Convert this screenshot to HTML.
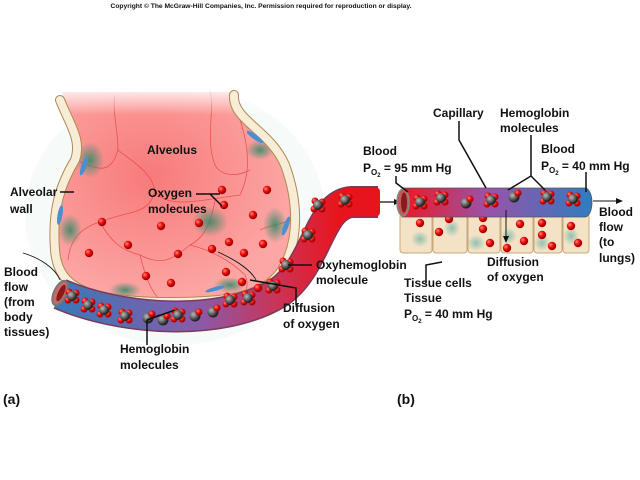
<!DOCTYPE html>
<html><head><meta charset="utf-8"><style>
html,body{margin:0;padding:0;background:#fff}
svg{display:block}
text{font-family:"Liberation Sans",Arial,sans-serif;font-weight:bold;font-size:12px;fill:#111}
</style></head><body>
<svg width="640" height="480" viewBox="0 0 640 480" xmlns="http://www.w3.org/2000/svg">
<defs>
<linearGradient id="ga" x1="60" y1="0" x2="340" y2="0" gradientUnits="userSpaceOnUse">
<stop offset="0" stop-color="#3a78b8"/><stop offset="0.5" stop-color="#8a5aa8"/><stop offset="0.8" stop-color="#d03050"/><stop offset="1" stop-color="#e8141c"/></linearGradient>
<linearGradient id="gb" x1="400" y1="0" x2="592" y2="0" gradientUnits="userSpaceOnUse">
<stop offset="0" stop-color="#ee1820"/><stop offset="0.45" stop-color="#9a52a8"/><stop offset="1" stop-color="#2f7cc0"/></linearGradient>
<linearGradient id="fade" x1="0" y1="85" x2="0" y2="115" gradientUnits="userSpaceOnUse">
<stop offset="0" stop-color="#fff" stop-opacity="1"/><stop offset="1" stop-color="#fff" stop-opacity="0"/></linearGradient>
<radialGradient id="pk" cx="0.4" cy="0.4" r="0.6"><stop offset="0" stop-color="#f77a7a"/><stop offset="1" stop-color="#fca7a5"/></radialGradient>
<radialGradient id="sph" cx="0.35" cy="0.35" r="0.6"><stop offset="0" stop-color="#ff8a7a"/><stop offset="0.5" stop-color="#f01010"/><stop offset="1" stop-color="#a00000"/></radialGradient>
<radialGradient id="dk" cx="0.35" cy="0.35" r="0.6"><stop offset="0" stop-color="#bbb"/><stop offset="1" stop-color="#222"/></radialGradient>
<radialGradient id="gr" cx="0.5" cy="0.5" r="0.5"><stop offset="0" stop-color="#3a8a6a" stop-opacity="0.9"/><stop offset="1" stop-color="#3a8a6a" stop-opacity="0"/></radialGradient>
<radialGradient id="gr2" cx="0.5" cy="0.5" r="0.5"><stop offset="0" stop-color="#7ab8a8" stop-opacity="0.8"/><stop offset="1" stop-color="#7ab8a8" stop-opacity="0"/></radialGradient>
<g id="o"><circle r="4.2" fill="url(#sph)"/></g>
<g id="hb"><circle cx="-3" cy="-4" r="3.5" fill="url(#sph)"/><circle cx="4" cy="-3" r="3.5" fill="url(#sph)"/><circle cx="-4" cy="4" r="3.5" fill="url(#sph)"/><circle cx="4" cy="4" r="3.5" fill="url(#sph)"/><circle r="5" fill="url(#dk)"/></g>
<g id="hb2"><circle r="5.5" fill="url(#dk)"/><circle cx="4" cy="-4" r="3.5" fill="url(#sph)"/></g>
</defs>

<text x="261" y="8" text-anchor="middle" style="font-size:6.7px">Copyright © The McGraw-Hill Companies, Inc. Permission required for reproduction or display.</text>

<ellipse cx="175" cy="215" rx="150" ry="130" fill="#eef8f6" opacity="0.5"/>
<path d="M62,92 C70,120 82,140 75,160 C60,185 52,210 55,250 C58,290 90,300 160,302 C220,302 262,300 282,270 C300,240 298,200 285,165 C270,130 232,120 234,92 Z" fill="url(#pk)"/>
<g fill="none" stroke="#e9433f" stroke-width="0.8" opacity="0.8">
<path d="M75,160 C100,170 110,175 118,150 C118,130 112,110 115,95"/>
<path d="M118,150 C130,160 150,170 155,190 C165,210 200,200 240,195 C250,175 250,150 240,120"/>
<path d="M155,190 C150,215 130,210 100,222 C80,228 70,240 68,260"/>
<path d="M100,222 C110,240 120,250 140,255 C160,265 170,262 190,245 C200,240 210,230 215,200"/>
<path d="M140,255 C145,275 150,290 160,300"/>
<path d="M190,245 C210,250 230,260 245,275 C250,285 245,295 240,300"/>
<path d="M210,90 C215,110 205,140 215,165 C220,175 235,178 250,170"/>
<path d="M260,230 C270,225 280,225 290,220"/>
</g>
<rect x="40" y="80" width="280" height="40" fill="url(#fade)"/>
<ellipse cx="210" cy="222" rx="18" ry="15" fill="url(#gr)"/>
<ellipse cx="90" cy="160" rx="14" ry="18" fill="url(#gr)"/>
<ellipse cx="70" cy="230" rx="12" ry="16" fill="url(#gr)"/>
<ellipse cx="275" cy="225" rx="12" ry="18" fill="url(#gr)"/>
<ellipse cx="260" cy="150" rx="14" ry="10" fill="url(#gr)"/>
<ellipse cx="125" cy="290" rx="16" ry="8" fill="url(#gr)"/>
<ellipse cx="230" cy="285" rx="16" ry="8" fill="url(#gr)"/>
<g fill="none" stroke-linecap="round">
<path d="M60,100 C70,125 82,140 75,160 C60,185 52,210 55,250 C58,290 90,300 160,302 C220,302 262,300 282,270 C300,240 298,200 285,165 C270,130 232,120 234,95" stroke="#b08850" stroke-width="10"/>
<path d="M60,100 C70,125 82,140 75,160 C60,185 52,210 55,250 C58,290 90,300 160,302 C220,302 262,300 282,270 C300,240 298,200 285,165 C270,130 232,120 234,95" stroke="#f7ecd6" stroke-width="8"/>
</g>
<g fill="#4a90d0">
<ellipse cx="84" cy="166" rx="2.5" ry="10" transform="rotate(20 84 166)"/>
<ellipse cx="60" cy="215" rx="2.5" ry="10" transform="rotate(10 60 215)"/>
<ellipse cx="255" cy="137" rx="2.5" ry="10" transform="rotate(-55 255 137)"/>
<ellipse cx="286" cy="226" rx="2.5" ry="10" transform="rotate(20 286 226)"/>
<ellipse cx="125" cy="302" rx="9" ry="2" />
<ellipse cx="215" cy="289" rx="10" ry="2" transform="rotate(-15 215 289)"/>
</g>
<path d="M60,294 C120,320 220,328 278,293 C318,266 318,204 352,202 L378,202" fill="none" stroke="#7a3a5a" stroke-width="32"/>
<path d="M60,294 C120,320 220,328 278,293 C318,266 318,204 352,202 L378,202" fill="none" stroke="url(#ga)" stroke-width="29"/>
<rect x="372" y="187.5" width="8" height="29" rx="4" fill="#e8141c"/>
<ellipse cx="60" cy="293" rx="6" ry="13" transform="rotate(25 60 293)" fill="#c86a6a" stroke="#777" stroke-width="2"/>
<ellipse cx="61" cy="293" rx="3" ry="9" transform="rotate(25 61 293)" fill="#8a1a1a"/>
<g>
<use href="#o" x="222" y="190"/><use href="#o" x="224" y="205"/><use href="#o" x="267" y="190"/>
<use href="#o" x="102" y="222"/><use href="#o" x="161" y="226"/><use href="#o" x="199" y="223"/>
<use href="#o" x="253" y="215"/><use href="#o" x="128" y="245"/><use href="#o" x="89" y="253"/>
<use href="#o" x="178" y="254"/><use href="#o" x="212" y="249"/><use href="#o" x="229" y="242"/>
<use href="#o" x="244" y="253"/><use href="#o" x="263" y="244"/><use href="#o" x="226" y="272"/>
<use href="#o" x="146" y="276"/><use href="#o" x="171" y="283"/><use href="#o" x="242" y="282"/>
<use href="#o" x="258" y="288"/>
</g>
<g>
<use href="#hb" x="72" y="296"/><use href="#hb" x="88" y="305"/><use href="#hb" x="104" y="310"/>
<use href="#hb" x="125" y="316"/><use href="#hb2" x="148" y="318"/><use href="#hb2" x="163" y="320"/>
<use href="#hb" x="178" y="315"/><use href="#hb2" x="195" y="316"/><use href="#hb2" x="213" y="312"/>
<use href="#hb" x="230" y="300"/><use href="#hb" x="248" y="298"/><use href="#hb" x="273" y="286"/>
<use href="#hb" x="286" y="265"/><use href="#hb" x="308" y="235"/><use href="#hb" x="318" y="205"/>
<use href="#hb" x="345" y="200"/>
</g>
<line x1="380" y1="202" x2="398" y2="202" stroke="#111" stroke-width="1.2"/>
<path d="M401,202 L394,199 L394,205 Z" fill="#111"/>

<g fill="#f3e2c6" stroke="#c8a878" stroke-width="1">
<rect x="400" y="214" width="32" height="39" rx="3"/>
<rect x="433" y="214" width="34" height="39" rx="3"/>
<rect x="468" y="214" width="32" height="39" rx="3"/>
<rect x="501" y="214" width="32" height="39" rx="3"/>
<rect x="534" y="214" width="28" height="39" rx="3"/>
<rect x="563" y="214" width="26" height="39" rx="3"/>
</g>
<g>
<ellipse cx="420" cy="239" rx="9" ry="8" fill="url(#gr2)"/>
<ellipse cx="452" cy="228" rx="8" ry="9" fill="url(#gr2)"/>
<ellipse cx="476" cy="243" rx="9" ry="8" fill="url(#gr2)"/>
<ellipse cx="509" cy="236" rx="8" ry="8" fill="url(#gr2)"/>
<ellipse cx="542" cy="243" rx="8" ry="8" fill="url(#gr2)"/>
<ellipse cx="571" cy="236" rx="8" ry="9" fill="url(#gr2)"/>
</g>
<g>
<use href="#o" x="420" y="223"/><use href="#o" x="449" y="219"/><use href="#o" x="439" y="232"/>
<use href="#o" x="483" y="218"/><use href="#o" x="483" y="229"/><use href="#o" x="490" y="243"/>
<use href="#o" x="507" y="248"/><use href="#o" x="520" y="224"/><use href="#o" x="524" y="241"/>
<use href="#o" x="542" y="223"/><use href="#o" x="542" y="235"/><use href="#o" x="552" y="246"/>
<use href="#o" x="571" y="226"/><use href="#o" x="578" y="243"/>
</g>
<path d="M402,188 L585,188 A7,14.5 0 0 1 585,217 L402,217 Z" fill="url(#gb)" stroke="#555" stroke-width="0.8"/>
<ellipse cx="403" cy="202.5" rx="6" ry="13.5" fill="#c05a5a" stroke="#888" stroke-width="1.5"/>
<ellipse cx="404" cy="202.5" rx="3" ry="10" fill="#8a1a1a"/>
<g>
<use href="#hb" x="420" y="202"/><use href="#hb" x="441" y="198"/><use href="#hb2" x="466" y="203"/>
<use href="#hb" x="491" y="200"/><use href="#hb2" x="514" y="197"/><use href="#hb" x="547" y="197"/>
<use href="#hb" x="573" y="199"/>
</g>
<line x1="593" y1="201" x2="618" y2="201" stroke="#111" stroke-width="1"/>
<path d="M623,201 L616,198 L616,204 Z" fill="#111"/>
<line x1="506" y1="210" x2="506" y2="238" stroke="#111" stroke-width="1"/>
<path d="M506,243 L503,236 L509,236 Z" fill="#111"/>

<g stroke="#111" stroke-width="1.5" fill="none">
<line x1="60" y1="192" x2="74" y2="192"/>
<path d="M196,194 L220,194 M210,194 L222,206"/>
<path d="M23,253 C40,258 55,268 60,280" stroke-width="0.8"/>
<path d="M147,345 L147,320 M147,320 L160,315 M147,320 L175,310"/>
<path d="M296,305 L296,288 L250,280" />
<path d="M218,252 C240,262 252,272 256,280" stroke-width="0.8"/>
<line x1="288" y1="265" x2="312" y2="265"/>
<path d="M396,176 L396,183 L408,192"/>
<path d="M459,121 L459,140 L486,188"/>
<path d="M531,135 L531,176 L508,190 M531,176 L545,190"/>
<line x1="586" y1="172" x2="586" y2="192"/>
<path d="M426,283 L426,265 L442,262"/>
</g>

<text x="147" y="154">Alveolus</text>
<text x="10" y="196">Alveolar</text><text x="10" y="213">wall</text>
<text x="148" y="197">Oxygen</text><text x="148" y="213">molecules</text>
<text x="4" y="276">Blood</text><text x="4" y="291">flow</text><text x="4" y="306">(from</text><text x="4" y="321">body</text><text x="4" y="336">tissues)</text>
<text x="120" y="353">Hemoglobin</text><text x="120" y="369">molecules</text>
<text x="283" y="312">Diffusion</text><text x="283" y="328">of oxygen</text>
<text x="316" y="269">Oxyhemoglobin</text><text x="316" y="284">molecule</text>
<text x="363" y="155">Blood</text>
<text x="363" y="172">P<tspan style="font-size:8px" dy="3">O</tspan><tspan style="font-size:6px" dy="2">2</tspan><tspan dy="-5"> = 95 mm Hg</tspan></text>
<text x="433" y="117">Capillary</text>
<text x="500" y="117">Hemoglobin</text><text x="500" y="132">molecules</text>
<text x="541" y="153">Blood</text>
<text x="541" y="170">P<tspan style="font-size:8px" dy="3">O</tspan><tspan style="font-size:6px" dy="2">2</tspan><tspan dy="-5"> = 40 mm Hg</tspan></text>
<text x="599" y="216">Blood</text><text x="599" y="231">flow</text><text x="599" y="246">(to</text><text x="599" y="262">lungs)</text>
<text x="487" y="266">Diffusion</text><text x="487" y="281">of oxygen</text>
<text x="404" y="287">Tissue cells</text><text x="404" y="302">Tissue</text>
<text x="404" y="318">P<tspan style="font-size:8px" dy="3">O</tspan><tspan style="font-size:6px" dy="2">2</tspan><tspan dy="-5"> = 40 mm Hg</tspan></text>
<text x="3" y="404" style="font-size:14px">(a)</text>
<text x="397" y="404" style="font-size:14px">(b)</text>
</svg>
</body></html>
